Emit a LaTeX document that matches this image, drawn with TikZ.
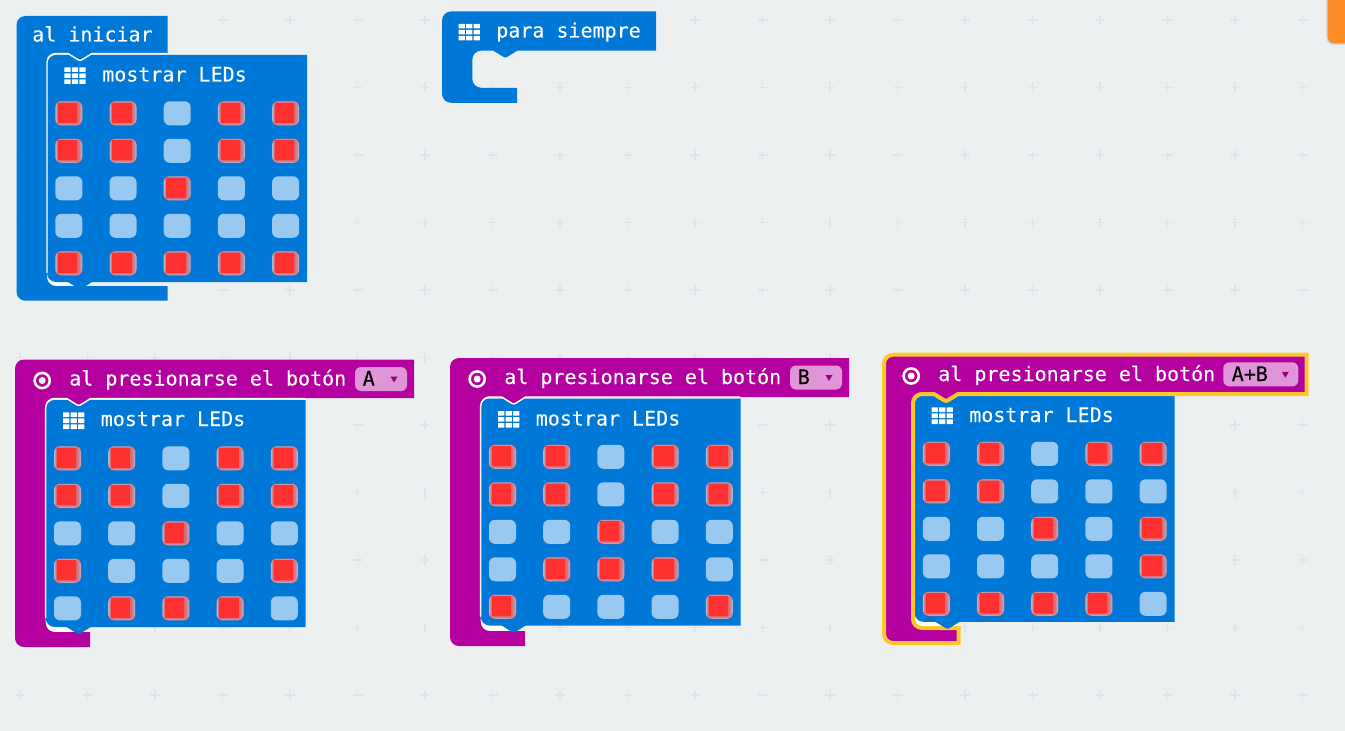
\documentclass[tikz,border=0pt]{standalone}
\usepackage{fontspec}
\setmonofont[FakeBold=0.2]{DejaVu Sans Mono}
\definecolor{bgc}{HTML}{ECF0F1}
\definecolor{gridc}{HTML}{E1E5E8}
\definecolor{blockblue}{HTML}{0078D7}
\definecolor{blockpurple}{HTML}{B4009E}
\definecolor{selyellow}{HTML}{FFC72C}
\definecolor{ledoff}{HTML}{99C9F0}
\definecolor{ledhalo}{HTML}{B2B6CE}
\definecolor{ledred}{HTML}{FF3030}
\definecolor{ddfill}{HTML}{E095D8}
\definecolor{orangetab}{HTML}{FF8C27}
\definecolor{orangeedge}{HTML}{C9D3D9}
\tikzset{
  x=0.75pt,y=-0.75pt,
  blocktext/.style={inner sep=0pt,anchor=base west,text=white,font=\ttfamily\fontsize{15}{15}\selectfont},
  droptext/.style={inner sep=0pt,anchor=base west,text=black,font=\ttfamily\fontsize{15}{15}\selectfont},
  gridplus/.style={draw=gridc,line width=0.9pt},
  ledround/.style={rounded corners=4.5pt},
  highlight/.style={draw=white,line width=1.1pt,line join=round},
}
% parent: L T R headBottom innerLeft barTop Bottom barRight
\newcommand{\parentpath}[8]{%
  ({#1+9},#2) -- (#3,#2) -- (#3,#4) -- ({#5+45},#4)
  -- ({#5+37},{#4+5}) .. controls ({#5+33},{#4+7.5}) .. ({#5+29},{#4+5})
  -- ({#5+21},#4) -- ({#5+9},#4) .. controls ({#5+4},#4) and (#5,{#4+4}) .. (#5,{#4+9})
  -- (#5,{#6-9}) .. controls (#5,{#6-4}) and ({#5+4},#6) .. ({#5+9},#6)
  -- (#8,#6) -- (#8,#7) -- ({#1+9},#7) .. controls ({#1+4},#7) and (#1,{#7-4}) .. (#1,{#7-9})
  -- (#1,{#2+9}) .. controls (#1,{#2+4}) and ({#1+4},#2) .. ({#1+9},#2) -- cycle}
% white line along the parent's inner edge: x headBottom childBottom endX
\newcommand{\hilite}[4]{%
  \draw[highlight] (#1,{#3-9}) -- (#1,{#2+9}) .. controls (#1,{#2+4}) and ({#1+4},#2) .. ({#1+9},#2) -- ({#1+21},#2) -- ({#1+29},{#2+5}) .. controls ({#1+33},{#2+7.5}) .. ({#1+37},{#2+5}) -- ({#1+45},#2) -- (#4,#2);}
% one LED matrix in the frame of the child block
\newcommand{\ledgrid}[1]{%
  \foreach \v [count=\i from 0] in {#1} {
    \pgfmathtruncatemacro{\cc}{mod(\i,5)}
    \pgfmathtruncatemacro{\rr}{int(\i/5)}
    \pgfmathsetmacro{\lx}{8.3+54.2*\cc}
    \pgfmathsetmacro{\ly}{46.3+37.5*\rr}
    \ifnum\v=1
      \fill[ledred,opacity=0.14,rounded corners=5pt] ({\lx-1},{\ly-1}) rectangle ({\lx+28},{\ly+25});
      \fill[ledhalo,ledround] (\lx,\ly) rectangle ({\lx+27},{\ly+24});
      \foreach \e in {5,4,3,2,1} {
        \fill[ledred,opacity=0.17,rounded corners=2pt]
          ({\lx+2.7-\e*0.3},{\ly+1.5-\e*0.2}) rectangle ({\lx+22+\e*0.9},{\ly+21.5+\e*0.45});
      }
      \fill[ledred] ({\lx+2.7},{\ly+1.5}) rectangle ({\lx+22},{\ly+21.5});
    \else
      \fill[ledoff,ledround] (\lx,\ly) rectangle ({\lx+27},{\ly+24});
    \fi
  }}
% child block: x y height
\newcommand{\childbody}[3]{%
  \fill[white] (#1,{#2+#3-12}) rectangle ({#1+26},{#2+#3+5});
  \fill[blockblue] ({#1+9},#2) -- ({#1+260},#2) -- ({#1+260},{#2+#3}) -- ({#1+9},{#2+#3}) .. controls ({#1+4},{#2+#3}) and (#1,{#2+#3-4}) .. (#1,{#2+#3-9}) -- (#1,{#2+9}) .. controls (#1,{#2+4}) and ({#1+4},#2) .. ({#1+9},#2) -- cycle;
}
\newcommand{\childtab}[3]{%
  \fill[blockblue] ({#1+21},{#2+#3-0.5}) -- ({#1+21},{#2+#3}) -- ({#1+29},{#2+#3+5}) .. controls ({#1+33},{#2+#3+7.5}) .. ({#1+37},{#2+#3+5}) -- ({#1+45},{#2+#3}) -- ({#1+45},{#2+#3-0.5}) -- cycle;
}
\newcommand{\gridicon}[2]{%
  \foreach \a in {0,1,2} \foreach \b in {0,1,2} {
    \fill[white,rounded corners=0.3pt] ({#1+\a*7.55},{#2+\b*6}) rectangle ({#1+\a*7.55+6.3},{#2+\b*6+4.7});
  }}
\newcommand{\targeticon}[2]{%
  \draw[white,line width=1.9pt] (#1,#2) circle (7.6);
  \fill[white] (#1,#2) circle (3.5);}
\newcommand{\dropdown}[3]{% x y width
  \fill[ddfill,rounded corners=4.5pt] (#1,#2) rectangle ({#1+#3},{#2+24});
  \fill[blockpurple!85!black] ({#1+#3-16.5},{#2+9.5}) -- ({#1+#3-9.5},{#2+9.5}) -- ({#1+#3-13},{#2+15.5}) -- cycle;
}
\begin{document}
\begin{tikzpicture}
\useasboundingbox (0,0) rectangle (1345,731);
\fill[bgc] (0,0) rectangle (1345,731);
% workspace grid
\foreach \k in {0,...,19} \foreach \m in {0,...,10} {
  \pgfmathsetmacro{\px}{20+67.5*\k}
  \pgfmathsetmacro{\py}{20+67.5*\m}
  \draw[gridplus] ({\px-5},\py) -- ({\px+5},\py) ({\px},{\py-5}) -- ({\px},{\py+5});
}
% orange tab
\fill[orangetab,draw=orangeedge,line width=1pt,rounded corners=5pt] (1327,-8) -- (1327,44) -- (1353,44) -- (1353,-8) -- cycle;

% ---- al iniciar
\childbody{47}{55}{227}
\fill[blockblue] \parentpath{16.5}{16}{167.5}{53.5}{47}{286}{300.7}{167.5};
\hilite{47}{53.5}{282}{167}
\childtab{47}{55}{227}
\node[blocktext] (t1) at (32,41.5) {al iniciar};
\node[blocktext] (m1) at (102,81.5) {mostrar LEDs};
\gridicon{64.3}{67.3}
\begin{scope}[shift={(47,55)}]
\ledgrid{1,1,0,1,1, 1,1,0,1,1, 0,0,1,0,0, 0,0,0,0,0, 1,1,1,1,1}
\end{scope}

% ---- para siempre
\fill[blockblue] \parentpath{442}{11.5}{656}{50.6}{472.3}{87.8}{102.8}{517};
\node[blocktext] (t2) at (496,37.5) {para siempre};
\gridicon{458.5}{23.8}

% ---- boton A
\childbody{45.7}{400}{227}
\fill[blockpurple] \parentpath{15}{359.5}{414}{398}{45.7}{632}{647}{90};
\hilite{45.7}{398.5}{627}{305}
\childtab{45.7}{400}{227}
\targeticon{42.2}{380.5}
\node[blocktext] (t3) at (69,385.5) {al presionarse el botón};
\dropdown{355}{367}{52}
\node[droptext] (d3) at (362.5,385.5) {A};
\node[blocktext] (m3) at (100.5,426) {mostrar LEDs};
\gridicon{63}{412.3}
\begin{scope}[shift={(45.7,400)}]
\ledgrid{1,1,0,1,1, 1,1,0,1,1, 0,0,1,0,0, 1,0,0,0,1, 0,1,1,1,0}
\end{scope}

% ---- boton B
\childbody{480.7}{398.5}{227}
\fill[blockpurple] \parentpath{450}{358}{849}{397}{480.7}{631}{646}{525};
\hilite{480.7}{397}{625.5}{740}
\childtab{480.7}{398.5}{227}
\targeticon{477.2}{379}
\node[blocktext] (t4) at (504,384) {al presionarse el botón};
\dropdown{790}{365.5}{52}
\node[droptext] (d4) at (797.5,384) {B};
\node[blocktext] (m4) at (535.5,425.5) {mostrar LEDs};
\gridicon{498}{411}
\begin{scope}[shift={(480.7,398.5)}]
\ledgrid{1,1,0,1,1, 1,1,0,1,1, 0,0,1,0,0, 0,1,1,1,0, 1,0,0,0,1}
\end{scope}

% ---- boton A+B (selected)
\childbody{914.5}{395.5}{226.3}
\filldraw[fill=blockpurple,draw=selyellow,line width=3pt,line join=miter] \parentpath{884}{354.7}{1306.5}{394}{913}{628}{643}{958.7};
\childtab{914.5}{395.5}{226.3}
\targeticon{911.2}{376}
\node[blocktext] (t5) at (938,381) {al presionarse el botón};
\dropdown{1223.3}{362.3}{75}
\node[droptext] (d5) at (1231.5,381) {A+B};
\node[blocktext] (m5) at (969,422) {mostrar LEDs};
\gridicon{931.5}{407.3}
\begin{scope}[shift={(914.5,395.5)}]
\ledgrid{1,1,0,1,1, 1,1,0,0,0, 0,0,1,0,1, 0,0,0,0,1, 1,1,1,1,0}
\end{scope}
\end{tikzpicture}
\end{document}
